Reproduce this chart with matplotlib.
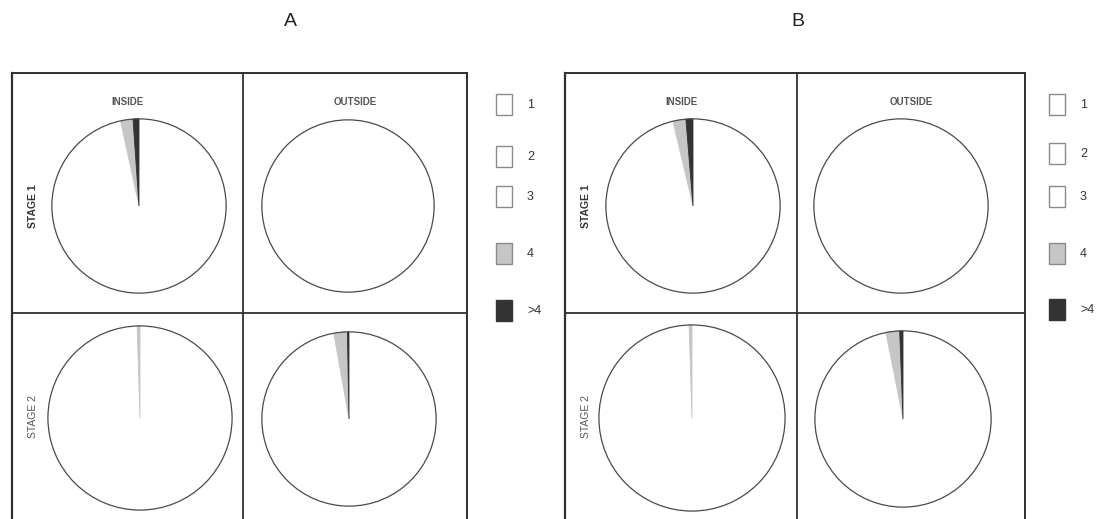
import matplotlib.pyplot as plt
from matplotlib.patches import Rectangle, Circle

plt.rcParams['font.family'] = ['Liberation Sans', 'DejaVu Sans']

# group sizes, percent of fish in each cell
classes = ['1', '2', '3', '4', '>4']
colors = ['white', 'white', 'white', '#c6c6c6', '#333333']
legend_edges = ['#8a8a8a', '#8a8a8a', '#8a8a8a', '#8a8a8a', '#333333']

a_stage1_inside = [96.6, 0.0, 0.0, 2.3, 1.1]
a_stage1_outside = [100.0, 0.0, 0.0, 0.0, 0.0]
a_stage2_inside = [99.5, 0.0, 0.0, 0.5, 0.0]
a_stage2_outside = [97.2, 0.0, 0.0, 2.5, 0.3]

b_stage1_inside = [96.3, 0.0, 0.0, 2.4, 1.3]
b_stage1_outside = [100.0, 0.0, 0.0, 0.0, 0.0]
b_stage2_inside = [99.5, 0.0, 0.0, 0.5, 0.0]
b_stage2_outside = [96.9, 0.0, 0.0, 2.5, 0.6]

W, H = 1109, 519
fig = plt.figure(figsize=(W / 100, H / 100), dpi=100)
fig.patch.set_facecolor('white')

# pixel-space overlay for frames, titles and legends
bg = fig.add_axes([0, 0, 1, 1])
bg.set_xlim(0, W)
bg.set_ylim(H, 0)
bg.axis('off')


def pie_at(values, cx, cy, r):
    ax = fig.add_axes([(cx - r) / W, 1 - (cy + r) / H, 2 * r / W, 2 * r / H])
    wedges, _ = ax.pie(values, colors=colors, startangle=90, counterclock=False,
                       radius=1, wedgeprops=dict(linewidth=0))
    # a faint outline keeps very thin slices visible
    for w, v in zip(wedges[3:], values[3:]):
        if v > 0:
            w.set_edgecolor(w.get_facecolor())
            w.set_linewidth(0.6)
    ax.add_patch(Circle((0, 0), 1, fill=False, edgecolor='#4a4a4a', lw=0.9))
    ax.set_xlim(-1.01, 1.01)
    ax.set_ylim(-1.01, 1.01)
    ax.axis('off')


def panel(x0, xm, x1, title, title_x, pies, legend_x, legend_ys, thin=False):
    lc = '#2f2f2f'
    bg.plot([x0, x1], [73, 73], color=lc, lw=1.4)
    bg.plot([x0, x0], [73, H + 5], color=lc, lw=1.6)
    bg.plot([x1, x1], [73, H + 5], color=lc, lw=1.4)
    bg.plot([xm, xm], [73, H + 5], color=lc, lw=1.3)
    bg.plot([x0, x1], [313, 313], color=lc, lw=1.3)
    bg.text(title_x, 22, title, ha='center', va='center', fontsize=14,
            color='#222222', fontweight='light' if thin else 'normal')

    bg.text((x0 + xm) / 2, 102, 'INSIDE', ha='center', va='center',
            fontsize=7, color='#555555', fontweight='bold')
    bg.text((xm + x1) / 2, 102, 'OUTSIDE', ha='center', va='center',
            fontsize=7, color='#555555', fontweight='bold')
    bg.text(x0 + 21, 206, 'STAGE 1', ha='center', va='center', rotation=90,
            fontsize=7.5, color='#333333', fontweight='bold')
    bg.text(x0 + 21, 417, 'STAGE 2', ha='center', va='center', rotation=90,
            fontsize=7.5, color='#555555')

    for values, cx, cy, r in pies:
        pie_at(values, cx, cy, r)

    for name, fc, ec, y in zip(classes, colors, legend_edges, legend_ys):
        bg.add_patch(Rectangle((legend_x - 8, y - 10.5), 16, 21, facecolor=fc,
                               edgecolor=ec, lw=1.0))
        bg.text(legend_x + 23, y + 1, name, ha='left', va='center',
                fontsize=9, color='#333333')


panel(12, 243, 467, 'A', 290,
      [(a_stage1_inside, 139, 206, 88), (a_stage1_outside, 348, 206, 87),
       (a_stage2_inside, 140, 418, 93), (a_stage2_outside, 349, 419, 88)],
      504, [104, 156, 196, 253, 310])

panel(565, 797, 1025, 'B', 798,
      [(b_stage1_inside, 693, 206, 88), (b_stage1_outside, 901, 206, 88),
       (b_stage2_inside, 692, 418, 94), (b_stage2_outside, 903, 419, 89)],
      1057, [104, 153, 196, 253, 309], thin=True)

fig.savefig('out.png', dpi=100, facecolor='white')
